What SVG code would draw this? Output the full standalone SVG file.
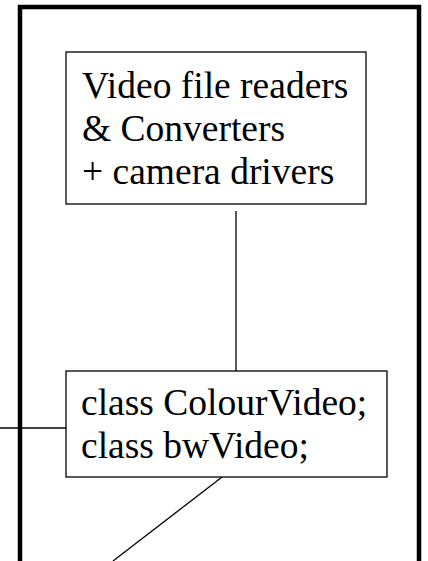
<svg xmlns="http://www.w3.org/2000/svg" width="428" height="561" viewBox="0 0 428 561">
<style>
.box{fill:#fff;stroke:#000;stroke-width:1.3}
.t{font-family:"Liberation Serif","Times New Roman",serif;font-size:37.5px;fill:#000}
.c{stroke:#000;stroke-width:1.3;fill:none}
</style>
<rect width="428" height="561" fill="#fff"/>
<g id="frame"><rect x="20" y="7" width="399" height="600" fill="none" stroke="#000" stroke-width="4.5"/></g>
<g id="connectors">
<line class="c" x1="236" y1="211" x2="236" y2="371"/>
<line class="c" x1="0" y1="428" x2="66" y2="428"/>
<line class="c" x1="226" y1="474" x2="113" y2="561"/>
</g>
<g id="node-readers">
<rect class="box" x="66" y="52" width="300" height="152"/>
<text class="t" x="82" y="98">Video file readers</text>
<text class="t" x="82" y="141">&amp; Converters</text>
<text class="t" x="82" y="184">+ camera drivers</text>
</g>
<g id="node-video">
<rect class="box" x="66" y="371" width="321" height="106"/>
<text class="t" x="81" y="415">class ColourVideo;</text>
<text class="t" x="81" y="458">class bwVideo;</text>
</g>
</svg>
